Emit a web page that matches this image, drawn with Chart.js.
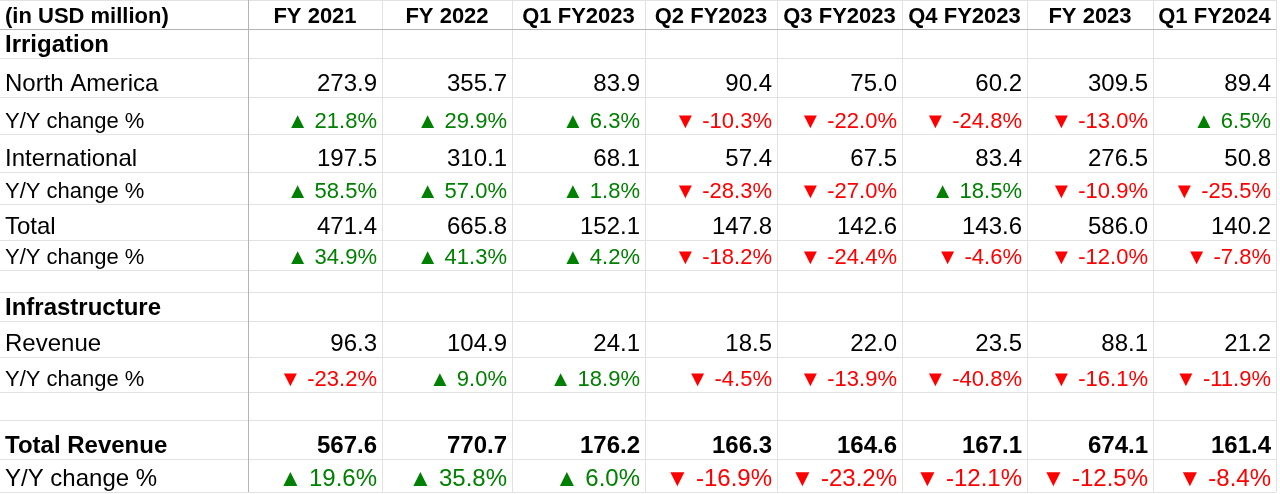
<!DOCTYPE html>
<html>
<head>
<meta charset="utf-8">
<script src="https://cdn.jsdelivr.net/npm/chart.js@4.4.1/dist/chart.umd.min.js"></script>
<style>
  body { margin: 0; background: #fff; }
  #wrap { width: 1280px; height: 494px; }
</style>
</head>
<body>
<div id="wrap"><canvas id="myChart"></canvas></div>
<script>
const periods = ['FY 2021', 'FY 2022', 'Q1 FY2023', 'Q2 FY2023', 'Q3 FY2023', 'Q4 FY2023', 'FY 2023', 'Q1 FY2024'];
const northAmerica = [273.9, 355.7, 83.9, 90.4, 75.0, 60.2, 309.5, 89.4];
const northAmericaYoY = [21.8, 29.9, 6.3, -10.3, -22.0, -24.8, -13.0, 6.5];
const international = [197.5, 310.1, 68.1, 57.4, 67.5, 83.4, 276.5, 50.8];
const internationalYoY = [58.5, 57.0, 1.8, -28.3, -27.0, 18.5, -10.9, -25.5];
const irrigationTotal = [471.4, 665.8, 152.1, 147.8, 142.6, 143.6, 586.0, 140.2];
const irrigationTotalYoY = [34.9, 41.3, 4.2, -18.2, -24.4, -4.6, -12.0, -7.8];
const infraRevenue = [96.3, 104.9, 24.1, 18.5, 22.0, 23.5, 88.1, 21.2];
const infraRevenueYoY = [-23.2, 9.0, 18.9, -4.5, -13.9, -40.8, -16.1, -11.9];
const totalRevenue = [567.6, 770.7, 176.2, 166.3, 164.6, 167.1, 674.1, 161.4];
const totalRevenueYoY = [19.6, 35.8, 6.0, -16.9, -23.2, -12.1, -12.5, -8.4];

// table layout (scale units)
const colEdges = [0, 248, 382, 512, 645, 777, 902, 1027, 1153, 1276];
const rowEdges = [0, 29, 58, 97, 134, 172, 204, 240, 270, 292, 321, 357, 392, 420, 459, 492];

const GREEN = '#008000';
const RED = '#ff0000';

// kind: head, section, value, pct, blank
const rows = [
  { label: '(in USD million)', kind: 'head', size: 22 },
  { label: 'Irrigation', kind: 'section', size: 24 },
  { label: 'North America', kind: 'value', values: northAmerica, size: 24 },
  { label: 'Y/Y change %', kind: 'pct', values: northAmericaYoY, size: 22 },
  { label: 'International', kind: 'value', values: international, size: 24 },
  { label: 'Y/Y change %', kind: 'pct', values: internationalYoY, size: 22 },
  { label: 'Total', kind: 'value', values: irrigationTotal, size: 24 },
  { label: 'Y/Y change %', kind: 'pct', values: irrigationTotalYoY, size: 22 },
  { label: '', kind: 'blank' },
  { label: 'Infrastructure', kind: 'section', size: 24 },
  { label: 'Revenue', kind: 'value', values: infraRevenue, size: 24 },
  { label: 'Y/Y change %', kind: 'pct', values: infraRevenueYoY, size: 22 },
  { label: '', kind: 'blank' },
  { label: 'Total Revenue', kind: 'value', values: totalRevenue, size: 24, bold: true },
  { label: 'Y/Y change %', kind: 'pct', values: totalRevenueYoY, size: 24 }
];

function pctText(v) {
  return (v >= 0 ? '\u25B2 ' : '\u25BC ') + v.toFixed(1) + '%';
}

// one scatter dataset per row, every cell is a point
const datasets = rows.map((row, r) => {
  const base = rowEdges[r + 1] - 6;
  const pts = [];
  if (row.kind === 'blank') return { data: pts, cells: [] };
  const bold = row.kind === 'head' || row.kind === 'section' || row.bold;
  pts.push({ x: colEdges[0] + 5, y: base, text: row.label, align: 'left', color: '#000', bold: bold });
  if (row.kind === 'head') {
    periods.forEach((p, c) => {
      pts.push({ x: (colEdges[c + 1] + colEdges[c + 2]) / 2, y: base, text: p, align: 'center', color: '#000', bold: true });
    });
  }
  if (row.kind === 'value') {
    row.values.forEach((v, c) => {
      pts.push({ x: colEdges[c + 2] - 5, y: base, text: v.toFixed(1), align: 'right', color: '#000', bold: !!row.bold });
    });
  }
  if (row.kind === 'pct') {
    row.values.forEach((v, c) => {
      pts.push({ x: colEdges[c + 2] - 5, y: base, text: pctText(v), align: 'right', color: v >= 0 ? GREEN : RED, bold: false });
    });
  }
  return { data: pts, size: row.size, pointRadius: 0, pointHoverRadius: 0 };
});

const gridPlugin = {
  id: 'tableGrid',
  beforeDatasetsDraw(chart) {
    const ctx = chart.ctx;
    const xs = chart.scales.x, ys = chart.scales.y;
    const x0 = xs.getPixelForValue(colEdges[0]);
    const x1 = xs.getPixelForValue(colEdges[colEdges.length - 1]);
    const y0 = ys.getPixelForValue(rowEdges[0]);
    const y1 = ys.getPixelForValue(rowEdges[rowEdges.length - 1]);
    ctx.save();
    ctx.lineWidth = 1;
    ctx.strokeStyle = '#e2e2e2';
    rowEdges.forEach((e, i) => {
      if (i === 1) return;
      const y = Math.round(ys.getPixelForValue(e)) + 0.5;
      ctx.beginPath(); ctx.moveTo(x0, y); ctx.lineTo(x1, y); ctx.stroke();
    });
    colEdges.forEach((e, i) => {
      if (i === 0 || i === 1) return;
      const x = Math.round(xs.getPixelForValue(e)) + 0.5;
      ctx.beginPath(); ctx.moveTo(x, y0); ctx.lineTo(x, y1); ctx.stroke();
    });
    // darker lines under header and right of label column
    ctx.strokeStyle = '#b4b4b4';
    let y = Math.round(ys.getPixelForValue(rowEdges[1])) + 0.5;
    ctx.beginPath(); ctx.moveTo(x0, y); ctx.lineTo(x1, y); ctx.stroke();
    let x = Math.round(xs.getPixelForValue(colEdges[1])) + 0.5;
    ctx.beginPath(); ctx.moveTo(x, y0); ctx.lineTo(x, y1); ctx.stroke();
    ctx.restore();
  }
};

const cellPlugin = {
  id: 'tableCells',
  afterDatasetsDraw(chart) {
    const ctx = chart.ctx;
    ctx.save();
    ctx.textBaseline = 'alphabetic';
    chart.data.datasets.forEach((ds, i) => {
      const meta = chart.getDatasetMeta(i);
      meta.data.forEach((el, j) => {
        const d = ds.data[j];
        ctx.font = (d.bold ? 'bold ' : '') + ds.size + 'px "Liberation Sans", Arial, sans-serif';
        ctx.fillStyle = d.color;
        ctx.textAlign = d.align;
        ctx.fillText(d.text, el.x, el.y);
      });
    });
    ctx.restore();
  }
};

const ctx = document.getElementById('myChart').getContext('2d');
const myChart = new Chart(ctx, {
  type: 'scatter',
  data: { datasets: datasets },
  options: {
    responsive: true,
    maintainAspectRatio: false,
    animation: false,
    events: [],
    layout: { padding: 0 },
    plugins: { legend: { display: false }, tooltip: { enabled: false } },
    scales: {
      x: { type: 'linear', display: false, min: 0, max: 1280 },
      y: { type: 'linear', display: false, min: 0, max: 494, reverse: true }
    }
  },
  plugins: [gridPlugin, cellPlugin]
});
</script>
</body>
</html>
